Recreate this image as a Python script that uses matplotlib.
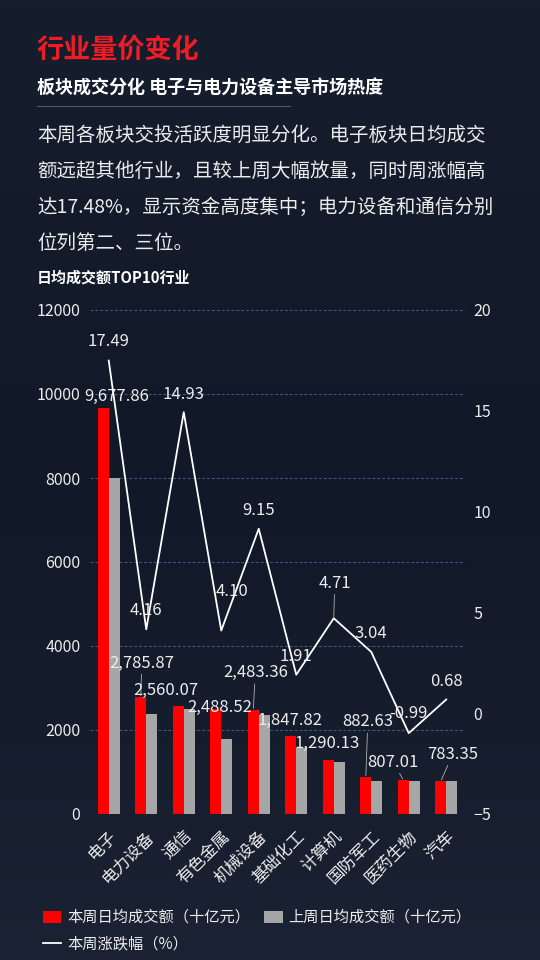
import numpy as np
import matplotlib.pyplot as plt
from matplotlib.patches import Patch
from matplotlib.lines import Line2D
from matplotlib.colors import LinearSegmentedColormap

plt.rcParams['font.family'] = ['Noto Sans CJK SC', 'DejaVu Sans']

# 数据
industries = ['电子', '电力设备', '通信', '有色金属', '机械设备',
              '基础化工', '计算机', '国防军工', '医药生物', '汽车']
this_week = [9677.86, 2785.87, 2560.07, 2488.52, 2483.36,
             1847.82, 1290.13, 882.63, 807.01, 783.35]
last_week = [8000, 2375, 2495, 1795, 2355, 1565, 1230, 795, 780, 780]
pct_change = [17.49, 4.16, 14.93, 4.10, 9.15, 1.91, 4.71, 3.04, -0.99, 0.68]
left_ticks = [0, 2000, 4000, 6000, 8000, 10000, 12000]
right_ticks = [-5, 0, 5, 10, 15, 20]

# 标签偏移 (像素) 与引导线
bar_label_off = [(13, 11), (1, 34), (-12, 16), (4, 2), (2, 37),
                 (-1, 16), (-1, 16), (2, 55), (-10, 18), (12, 27)]
bar_leader = [False, True, False, False, True, False, False, True, True, True]
line_label_off = [(0, 19), (0, 19), (0, 18), (11, 39), (0, 18),
                  (0, 18), (1, 35), (0, 18), (0, 20), (0, 18)]
line_leader = [False, False, False, False, False, False, True, False, False, False]

BG = '#141b2a'
TXT = '#ececec'
PX = 0.72  # 像素 -> 点

fig = plt.figure(figsize=(5.4, 9.6), dpi=100, facecolor=BG)

# 背景渐变
bg = fig.add_axes([0, 0, 1, 1], zorder=-10)
grad = np.linspace(0, 1, 256).reshape(-1, 1)
cmap = LinearSegmentedColormap.from_list('bg', ['#161e2e', '#111827', '#1a2233'])
bg.imshow(grad, aspect='auto', cmap=cmap, extent=[0, 1, 0, 1])
bg.axis('off')

# 标题区
fig.text(37 / 540, 1 - 50 / 960, '行业量价变化', color='#ee1c25', fontsize=19.5,
         fontweight='heavy', va='center', ha='left')
fig.text(37 / 540, 1 - 88 / 960, '板块成交分化 电子与电力设备主导市场热度', color='white',
         fontsize=13, fontweight='heavy', va='center', ha='left')
fig.add_artist(Line2D([37 / 540, 290 / 540], [1 - 106 / 960, 1 - 106 / 960],
                      color='#4a5670', lw=0.8, transform=fig.transFigure))
body = ['本周各板块交投活跃度明显分化。电子板块日均成交',
        '额远超其他行业，且较上周大幅放量，同时周涨幅高',
        '达17.48%，显示资金高度集中；电力设备和通信分别',
        '位列第二、三位。']
for i, line in enumerate(body):
    fig.text(37 / 540, 1 - (135 + 36 * i) / 960, line, color=TXT, fontsize=14,
             va='center', ha='left')
fig.text(37 / 540, 1 - 278 / 960, '日均成交额TOP10行业', color='white', fontsize=10.8,
         fontweight='heavy', va='center', ha='left')

# 图表
ax = fig.add_axes([90 / 540, 1 - 814 / 960, 375 / 540, 504 / 960])
ax.set_facecolor('none')
ax2 = ax.twinx()

x = np.arange(len(industries))
w = 0.29
ax.bar(x - w / 2, this_week, width=w, color='#ff0000', zorder=3)
ax.bar(x + w / 2, last_week, width=w, color='#a6a6a6', zorder=3)
ax.set_xlim(-0.5, len(industries) - 0.5)
ax.set_ylim(0, 12000)
ax.set_yticks(left_ticks)
ax.yaxis.grid(True, color='#3e5b8c', linestyle=(0, (3, 2)), lw=0.7)
ax.get_ygridlines()[0].set_visible(False)
ax.set_axisbelow(True)
ax.set_xticks(x)
ax.set_xticklabels(industries, rotation=45, ha='right', rotation_mode='anchor')
ax.tick_params(axis='x', length=0, pad=10, labelsize=12, labelcolor=TXT)
ax.tick_params(axis='y', length=0, pad=7, labelsize=11.5, labelcolor=TXT)

ax2.plot(x, pct_change, color='white', lw=1.3, zorder=4)
ax2.set_ylim(-5, 20)
ax2.set_yticks(right_ticks)
ax2.tick_params(axis='y', length=0, pad=6, labelsize=11.5, labelcolor=TXT)

for a in (ax, ax2):
    for s in a.spines.values():
        s.set_visible(False)

# 柱标签
for i, v in enumerate(this_week):
    dx, dy = bar_label_off[i]
    kw = {}
    if bar_leader[i]:
        kw['arrowprops'] = dict(arrowstyle='-', color='#b0b0b0', lw=0.6,
                                shrinkA=0, shrinkB=1)
    ax.annotate(f'{v:,.2f}', xy=(x[i] - w / 2, v), xytext=(dx * PX, dy * PX),
                textcoords='offset points', ha='center', va='center',
                color=TXT, fontsize=12, zorder=6, **kw)

# 折线标签
for i, v in enumerate(pct_change):
    dx, dy = line_label_off[i]
    kw = {}
    if line_leader[i]:
        kw['arrowprops'] = dict(arrowstyle='-', color='#b0b0b0', lw=0.6,
                                shrinkA=0, shrinkB=1)
    ax2.annotate(f'{v:.2f}', xy=(x[i], v), xytext=(dx * PX, dy * PX),
                 textcoords='offset points', ha='center', va='center',
                 color=TXT, fontsize=12, zorder=6, **kw)

# 图例
handles = [Patch(facecolor='#ff0000'),
           Line2D([0], [0], color='white', lw=1.3),
           Patch(facecolor='#a6a6a6')]
labels = ['本周日均成交额（十亿元）', '本周涨跌幅（%）', '上周日均成交额（十亿元）']
fig.legend(handles, labels, loc='upper left', bbox_to_anchor=(43 / 540, 1 - 909 / 960),
           ncol=2, frameon=False, fontsize=11, labelcolor=TXT,
           handlelength=1.2, handleheight=0.8, handletextpad=0.4,
           columnspacing=0.9, labelspacing=0.6, borderpad=0, borderaxespad=0)

fig.savefig('out.png', dpi=100, facecolor=BG)
